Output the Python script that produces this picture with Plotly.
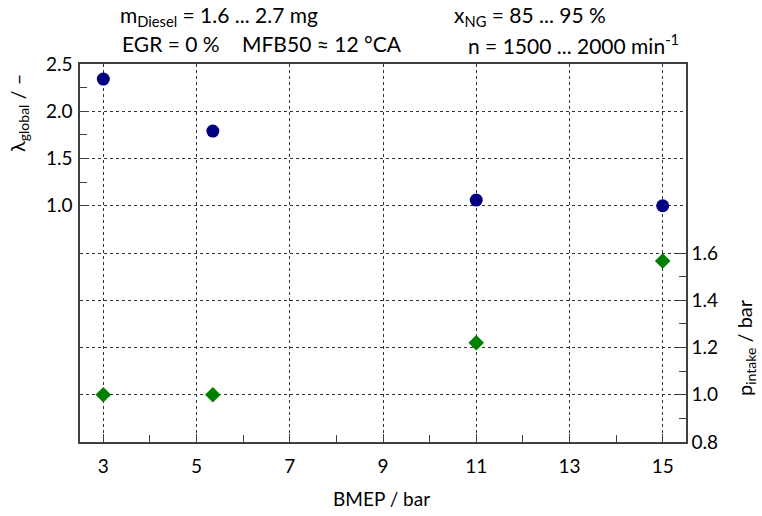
import plotly.graph_objects as go

bmep = [3, 5.35, 11, 15]
lambda_global = [2.34, 1.79, 1.06, 1.0]
p_intake = [1.0, 1.0, 1.22, 1.566]

x_ticks = [3, 5, 7, 9, 11, 13, 15]
x_minor = [4, 6, 8, 10, 12, 14]
y1_ticks = [1.0, 1.5, 2.0, 2.5]
y1_labels = ["1.0", "1.5", "2.0", "2.5"]
y1_minor = [1.25, 1.75, 2.25]
y2_ticks = [0.8, 1.0, 1.2, 1.4, 1.6]
y2_labels = ["0.8", "1.0", "1.2", "1.4", "1.6"]
y2_minor = [0.9, 1.1, 1.3, 1.5]

FONT = "Lato"
AX = "#404040"
GRID = "#333333"

fig = go.Figure()
fig.add_trace(go.Scatter(x=bmep, y=lambda_global, mode="markers",
                         marker=dict(symbol="circle", size=13, color="#000080"),
                         yaxis="y", showlegend=False))
fig.add_trace(go.Scatter(x=bmep, y=p_intake, mode="markers",
                         marker=dict(symbol="diamond", size=12, color="#008000"),
                         yaxis="y2", showlegend=False))

fig.update_layout(
    width=762, height=516,
    margin=dict(l=80, r=76, t=64, b=74),
    paper_bgcolor="white", plot_bgcolor="white",
    font=dict(family=FONT, size=19, color="black"),
    xaxis=dict(range=[2.5, 15.5], tickvals=x_ticks, ticktext=[str(v) for v in x_ticks],
               ticks="inside", ticklen=8, tickcolor=AX, showline=True, linecolor=AX,
               linewidth=1.5, mirror=True, showgrid=True, gridcolor=GRID,
               griddash="3px,3px", gridwidth=1, zeroline=False,
               ticklabelstandoff=6,
               minor=dict(tickvals=x_minor, ticks="inside", ticklen=7, tickcolor=AX,
                          showgrid=False)),
    yaxis=dict(range=[-1.5, 2.5], tickvals=y1_ticks, ticktext=y1_labels,
               ticks="inside", ticklen=9, tickcolor=AX, showline=True, linecolor=AX,
               linewidth=1.5, showgrid=True, gridcolor=GRID, griddash="3px,3px",
               gridwidth=1, zeroline=False, ticklabelstandoff=2,
               minor=dict(tickvals=y1_minor, ticks="inside", ticklen=7, tickcolor=AX,
                          showgrid=False)),
    yaxis2=dict(range=[0.8, 2.4], tickvals=y2_ticks, ticktext=y2_labels,
                overlaying="y", side="right",
                ticks="inside", ticklen=9, tickcolor=AX, showline=True, linecolor=AX,
                linewidth=1.5, showgrid=True, gridcolor=GRID, griddash="3px,3px",
                gridwidth=1, zeroline=False, ticklabelstandoff=0,
                minor=dict(tickvals=y2_minor, ticks="inside", ticklen=7, tickcolor=AX,
                           showgrid=False)),
)

ann = [
    dict(text="m<sub>Diesel</sub> = 1.6 ... 2.7 mg", x=118, y=16),
    dict(text="EGR = 0 %", x=120, y=44),
    dict(text="MFB50 ≈ 12 °CA", x=240, y=44),
    dict(text="x<sub>NG</sub> = 85 ... 95 %", x=452, y=16),
    dict(text="n = 1500 ... 2000 min<sup>-1</sup>", x=466, y=44),
]
for a in ann:
    fig.add_annotation(text=a["text"], xref="paper", yref="paper",
                       x=(a["x"] - 80) / 606, y=(442 - a["y"]) / 378,
                       xanchor="left", yanchor="middle", showarrow=False,
                       font=dict(family=FONT, size=21))

fig.add_annotation(text="BMEP / bar", xref="paper", yref="paper",
                   x=(381 - 80) / 606, y=(442 - 498) / 378, xanchor="center",
                   yanchor="middle", showarrow=False, font=dict(family=FONT, size=19))
fig.add_annotation(text="λ<sub>global</sub> / –", xref="paper", yref="paper",
                   x=(18 - 80) / 606, y=(442 - 113) / 378, xanchor="center",
                   yanchor="middle", textangle=-90, showarrow=False,
                   font=dict(family=FONT, size=20))
fig.add_annotation(text="p<sub>intake</sub> / bar", xref="paper", yref="paper",
                   x=(745 - 80) / 606, y=(442 - 348) / 378, xanchor="center",
                   yanchor="middle", textangle=-90, showarrow=False,
                   font=dict(family=FONT, size=20))

fig.write_html("out.html")
